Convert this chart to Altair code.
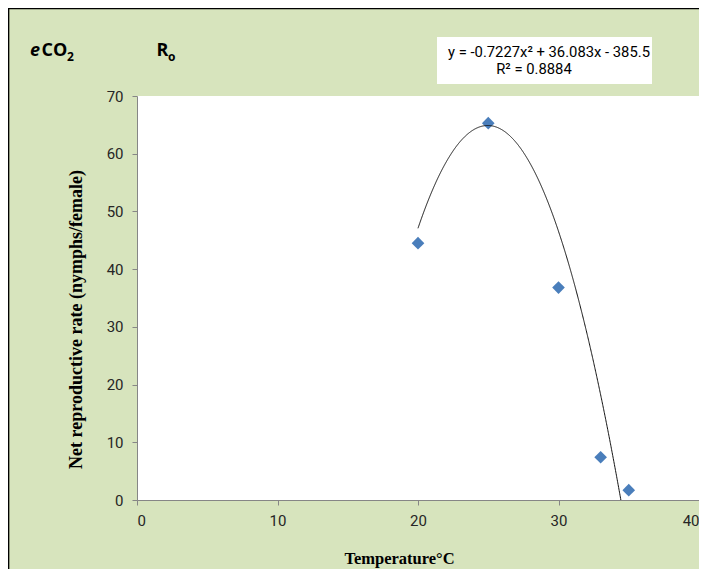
import altair as alt
import pandas as pd

# ---- data ----
temperature = [20, 25, 30, 33, 35]
net_rate = [44.5, 65.3, 36.8, 7.4, 1.7]
x_ticks = [0, 10, 20, 30, 40]
y_ticks = [0, 10, 20, 30, 40, 50, 60, 70]
# printed trendline: y = a*x^2 + b*x + c
trend_a = -0.7227
trend_b = 36.083
trend_c = -385.5
trend_start = 20
trend_stop = 35
equation_line1 = "y = -0.7227x² + 36.083x - 385.5"
equation_line2 = "R² = 0.8884"
x_title = "Temperature°C"
y_title = "Net reproductive rate (nymphs/female)"

df = pd.DataFrame({"T": temperature, "R": net_rate})
one = alt.Data(values=[{"k": 1}])

W, H = 562, 404
GREEN = "#d7e4bd"
AXIS_GRAY = "#868686"

xscale = alt.Scale(domain=[0, 40], nice=False, zero=False)
yscale = alt.Scale(domain=[0, 70], nice=False)

x_axis = alt.Axis(
    values=x_ticks, title=x_title, grid=False,
    domainColor=AXIS_GRAY, tickColor=AXIS_GRAY, tickSize=5,
    labelFont="Roboto", labelFontSize=15, labelColor="#262626", labelPadding=8,
    titleFont="Liberation Serif", titleFontWeight="bold", titleFontSize=16.5,
    titleColor="black", titleX=262, titleY=63, titleAlign="center",
    titleBaseline="alphabetic",
)
y_axis = alt.Axis(
    values=y_ticks, title=y_title, grid=False,
    domainColor=AXIS_GRAY, tickColor=AXIS_GRAY, tickSize=5,
    labelFont="Roboto", labelFontSize=15, labelColor="#262626", labelPadding=9,
    titleFont="Liberation Serif", titleFontWeight="bold", titleFontSize=18,
    titleColor="black", titleX=-61, titleY=223, titleAlign="center",
    titleBaseline="middle", titleAngle=-90,
)

points = alt.Chart(df).mark_point(
    shape="diamond", filled=True, size=160, color="#4a7ebb", opacity=1
).encode(
    x=alt.X("T:Q", scale=xscale, axis=x_axis),
    y=alt.Y("R:Q", scale=yscale, axis=y_axis),
)

trend = alt.Chart(alt.sequence(trend_start, trend_stop, 0.02, as_="T")).transform_calculate(
    R=f"{trend_a}*datum.T*datum.T + {trend_b}*datum.T + {trend_c}"
).mark_line(color="#111111", strokeWidth=1, clip=True).encode(
    x=alt.X("T:Q", scale=xscale),
    y=alt.Y("R:Q", scale=yscale),
)

# outer frame lines (top and left)
frame_top = alt.Chart(one).mark_rule(color="black", strokeWidth=1.5).encode(
    x=alt.value(-129), x2=alt.value(W + 10), y=alt.value(-87.4)
)
frame_left = alt.Chart(one).mark_rule(color="black", strokeWidth=1.5).encode(
    x=alt.value(-128.4), y=alt.value(-88), y2=alt.value(H + 80)
)

# equation box
eq_box = alt.Chart(one).mark_rect(color="white").encode(
    x=alt.value(300), x2=alt.value(515), y=alt.value(-59), y2=alt.value(-12)
)
eq1 = alt.Chart(one).mark_text(
    text=equation_line1, font="Roboto", fontSize=14.8, color="black",
    align="center", baseline="alphabetic"
).encode(x=alt.value(412), y=alt.value(-39.5))
eq2 = alt.Chart(one).mark_text(
    text=equation_line2, font="Roboto", fontSize=14.8, color="black",
    align="center", baseline="alphabetic"
).encode(x=alt.value(397), y=alt.value(-22))

# headings eCO2 and Ro
def txt(s, x, y, size, style="normal"):
    return alt.Chart(one).mark_text(
        text=s, font="Open Sans", fontSize=size, fontWeight="bold",
        fontStyle=style, color="black", align="left", baseline="alphabetic"
    ).encode(x=alt.value(x), y=alt.value(y))

h_e = txt("e", -107, -40, 18, "italic")
h_co = txt("CO", -95.5, -40, 18)
h_2 = txt("2", -70, -35, 12)
h_r = txt("R", 19.5, -40, 18)
h_o = txt("o", 31, -35, 12)

chart = alt.layer(
    frame_top, frame_left, points, trend, eq_box, eq1, eq2,
    h_e, h_co, h_2, h_r, h_o
).properties(
    width=W, height=H,
    autosize=alt.AutoSizeParams(type="none"),
    padding={"left": 129, "top": 88, "right": 0, "bottom": 69},
    background=GREEN,
).configure_view(
    fill="white", stroke=None
)

chart.save("out.html", embed_options={"renderer": "svg", "actions": False})
